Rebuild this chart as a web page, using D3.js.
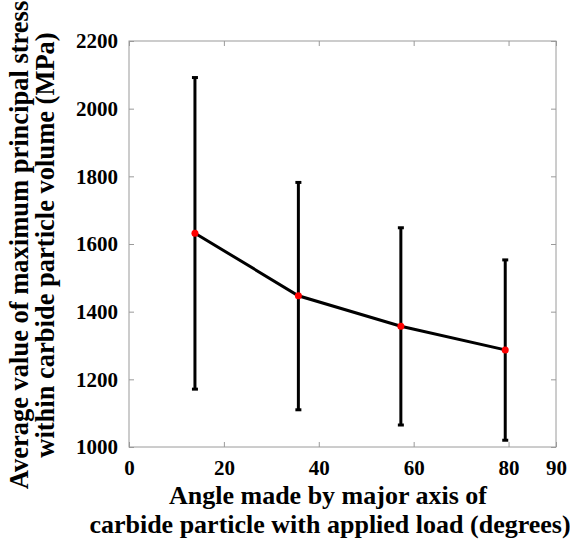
<!DOCTYPE html>
<html>
<head>
<meta charset="utf-8">
<script src="https://cdn.jsdelivr.net/npm/d3@7"></script>
<style>
  body { margin: 0; background: #fff; }
  svg text { font-family: 'Liberation Serif', 'Times New Roman', serif; font-weight: bold; }
</style>
</head>
<body>
<div id="vis"></div>
<script>
// data
const angles = [13.9, 35.7, 57.3, 79.3];
const meanStress = [1632, 1447, 1357, 1287];
const upperStress = [2092, 1782, 1648, 1553];
const lowerStress = [1171, 1110, 1065, 1020];
const xTicks = [0, 20, 40, 60, 80, 90];
const yTicks = [1000, 1200, 1400, 1600, 1800, 2000, 2200];

const width = 570;
const height = 542;
const margin = { top: 41, right: 14, bottom: 95, left: 129 };

const points = angles.map((a, i) => ({
    angle: a, mean: meanStress[i], hi: upperStress[i], lo: lowerStress[i]
}));

const x = d3.scaleLinear()
    .domain([0, 90])
    .range([margin.left, width - margin.right]);

const y = d3.scaleLinear()
    .domain([1000, 2200])
    .range([height - margin.bottom, margin.top]);

const svg = d3.select('#vis')
    .append('svg')
    .attr('width', width)
    .attr('height', height);

const boxColor = '#9a9a9a';

// frame
svg.append('rect')
    .attr('x', x(0))
    .attr('y', y(2200))
    .attr('width', x(90) - x(0))
    .attr('height', y(1000) - y(2200))
    .attr('fill', 'none')
    .attr('stroke', boxColor)
    .attr('stroke-width', 1);

// axes with inward ticks
const xAxis = svg.append('g')
    .attr('transform', `translate(0, ${y(1000)})`)
    .call(d3.axisBottom(x).tickValues(xTicks).tickSize(-5).tickPadding(9).tickFormat(d3.format('d')));

svg.append('g')
    .attr('transform', `translate(0, ${y(2200)})`)
    .call(d3.axisTop(x).tickValues(xTicks).tickSize(-5).tickFormat(''));

const yAxis = svg.append('g')
    .attr('transform', `translate(${x(0)}, 0)`)
    .call(d3.axisLeft(y).tickValues(yTicks).tickSize(-5).tickPadding(11).tickFormat(d3.format('d')));

svg.append('g')
    .attr('transform', `translate(${x(90)}, 0)`)
    .call(d3.axisRight(y).tickValues(yTicks).tickSize(-5).tickFormat(''));

svg.selectAll('.domain').remove();
svg.selectAll('.tick line').attr('stroke', boxColor);

svg.selectAll('.tick text')
    .attr('fill', 'black')
    .attr('font-size', '21px');

xAxis.selectAll('.tick text').attr('dy', '0.9em');

// axis titles
svg.append('text')
    .attr('x', 328)
    .attr('y', 504)
    .attr('text-anchor', 'middle')
    .attr('font-size', '26px')
    .text('Angle made by major axis of');

svg.append('text')
    .attr('x', 330)
    .attr('y', 533)
    .attr('text-anchor', 'middle')
    .attr('font-size', '26px')
    .text('carbide particle with applied load (degrees)');

const yTitle = svg.append('g')
    .attr('transform', `translate(0, 245) rotate(-90)`);

yTitle.append('text')
    .attr('x', 0)
    .attr('y', 28)
    .attr('text-anchor', 'middle')
    .attr('font-size', '26.5px')
    .text('Average value of maximum principal stress');

yTitle.append('text')
    .attr('x', 0)
    .attr('y', 54)
    .attr('text-anchor', 'middle')
    .attr('font-size', '26.5px')
    .text('within carbide particle volume (MPa)');

// error bars
const capHalf = 3;
const bars = svg.append('g')
    .attr('stroke', 'black')
    .attr('stroke-width', 3);

bars.selectAll('line.bar')
    .data(points)
    .join('line')
    .attr('class', 'bar')
    .attr('x1', d => x(d.angle))
    .attr('x2', d => x(d.angle))
    .attr('y1', d => y(d.lo))
    .attr('y2', d => y(d.hi));

bars.selectAll('line.cap-hi')
    .data(points)
    .join('line')
    .attr('class', 'cap-hi')
    .attr('x1', d => x(d.angle) - capHalf)
    .attr('x2', d => x(d.angle) + capHalf)
    .attr('y1', d => y(d.hi))
    .attr('y2', d => y(d.hi));

bars.selectAll('line.cap-lo')
    .data(points)
    .join('line')
    .attr('class', 'cap-lo')
    .attr('x1', d => x(d.angle) - capHalf)
    .attr('x2', d => x(d.angle) + capHalf)
    .attr('y1', d => y(d.lo))
    .attr('y2', d => y(d.lo));

// mean line
const line = d3.line()
    .x(d => x(d.angle))
    .y(d => y(d.mean));

svg.append('path')
    .datum(points)
    .attr('fill', 'none')
    .attr('stroke', 'black')
    .attr('stroke-width', 3)
    .attr('d', line);

svg.selectAll('circle')
    .data(points)
    .join('circle')
    .attr('cx', d => x(d.angle))
    .attr('cy', d => y(d.mean))
    .attr('r', 3.5)
    .attr('fill', 'red');
</script>
</body>
</html>
